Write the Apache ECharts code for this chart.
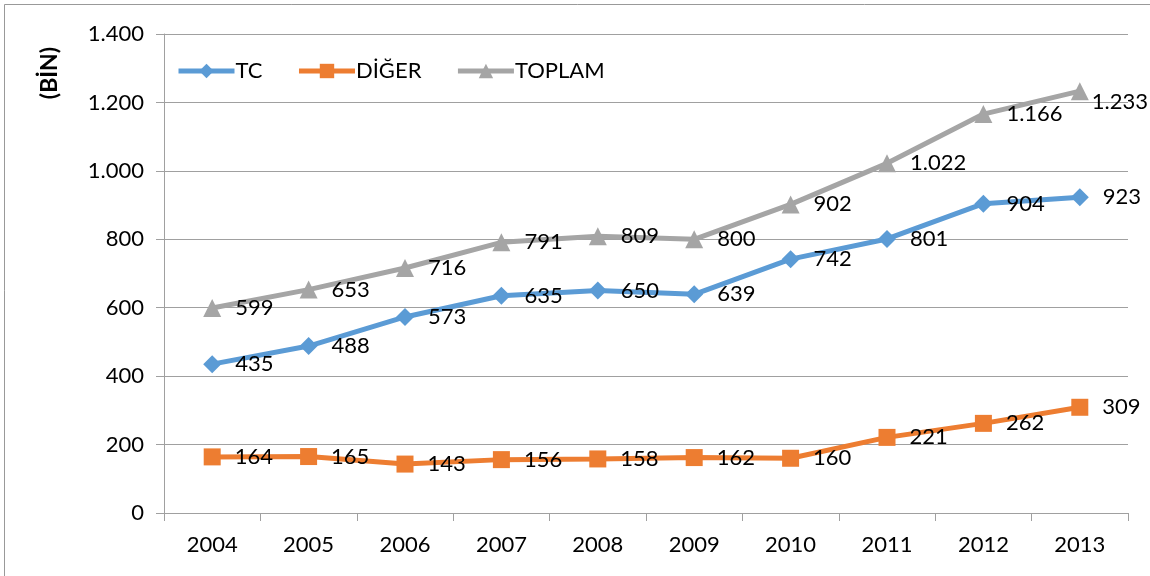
<!DOCTYPE html>
<html>
<head>
<meta charset="utf-8">
<script src="https://cdn.jsdelivr.net/npm/echarts@6/dist/echarts.min.js"></script>
<style>
  html, body { margin: 0; padding: 0; background: #fff; }
  #chart { width: 1150px; height: 576px; }
</style>
</head>
<body>
<div id="chart"></div>
<script>
  // values (thousands)
  var years = ['2004', '2005', '2006', '2007', '2008', '2009', '2010', '2011', '2012', '2013']
  var tc = [435, 488, 573, 635, 650, 639, 742, 801, 904, 923]
  var diger = [164, 165, 143, 156, 158, 162, 160, 221, 262, 309]
  var toplam = [599, 653, 716, 791, 809, 800, 902, 1022, 1166, 1233]

  var font = 'Lato, "Open Sans", sans-serif'

  // turkish thousands separator
  function fmt(v) {
    return String(v).replace(/\B(?=(\d{3})+(?!\d))/g, '.')
  }

  function makeSeries(name, data, color, symbol, size) {
    return {
      name: name,
      type: 'line',
      data: data,
      symbol: symbol,
      symbolSize: size,
      color: color,
      lineStyle: { width: 5, color: color },
      itemStyle: { color: color },
      label: {
        show: true,
        position: 'right',
        distance: 14,
        color: '#000',
        fontFamily: font,
        fontSize: 22,
        formatter: function (p) { return fmt(p.value) }
      },
      // keep labels inside the window like excel does
      labelLayout: function (p) {
        var r = p.labelRect
        if (r.x + r.width > 1148) {
          return { x: 1148 - r.width }
        }
        return {}
      },
      animation: false
    }
  }

  var chart = echarts.init(document.getElementById('chart'))
  chart.setOption({
    backgroundColor: '#fff',
    graphic: [
      {
        type: 'rect',
        shape: { x: 4.5, y: 4.5, width: 1160, height: 600 },
        style: { fill: 'none', stroke: '#999', lineWidth: 1 }
      },
      {
        type: 'text',
        x: 50,
        y: 73,
        rotation: Math.PI / 2,
        style: {
          text: '(BİN)',
          font: 'bold 23px ' + font,
          fill: '#000',
          align: 'center',
          verticalAlign: 'middle'
        }
      }
    ],
    legend: {
      left: 171,
      top: 55,
      itemWidth: 56,
      itemHeight: 18,
      itemGap: 34,
      itemStyle: { borderWidth: 0 },
      lineStyle: { width: 5 },
      textStyle: { fontFamily: font, fontSize: 22, color: '#000', padding: [0, 0, 0, -4] },
      data: ['TC', 'DİĞER', 'TOPLAM']
    },
    grid: {
      left: 164,
      right: 22,
      top: 34,
      bottom: 63
    },
    xAxis: {
      type: 'category',
      data: years,
      boundaryGap: true,
      axisLine: { lineStyle: { color: '#a0a0a0', width: 1 } },
      axisTick: { show: true, length: 8, lineStyle: { color: '#a0a0a0' } },
      axisLabel: { color: '#000', fontFamily: font, fontSize: 22, margin: 21 }
    },
    yAxis: {
      type: 'value',
      min: 0,
      max: 1400,
      interval: 200,
      axisLine: { show: true, lineStyle: { color: '#a0a0a0', width: 1 } },
      axisTick: { show: true, length: 8, lineStyle: { color: '#a0a0a0' } },
      splitLine: { lineStyle: { color: '#a0a0a0', width: 1 } },
      axisLabel: {
        color: '#000',
        fontFamily: font,
        fontSize: 22,
        margin: 20,
        formatter: fmt
      }
    },
    series: [
      makeSeries('TC', tc, '#5B9BD5', 'diamond', 18),
      makeSeries('DİĞER', diger, '#ED7D31', 'rect', 17),
      makeSeries('TOPLAM', toplam, '#A5A5A5', 'triangle', 18)
    ]
  })
</script>
</body>
</html>
